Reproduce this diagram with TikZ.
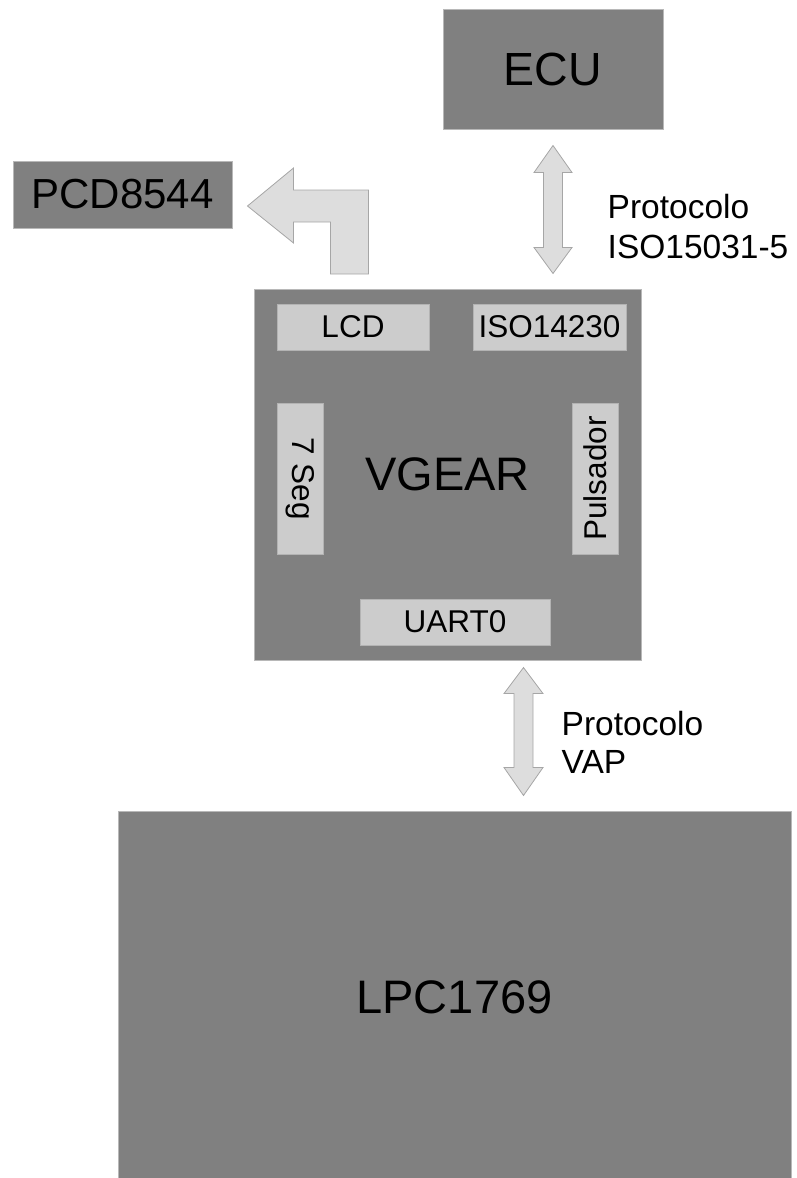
\documentclass[tikz,border=0pt]{standalone}
\usepackage{fontspec}
\setmainfont{Liberation Sans}
\usepackage{tikz}
\usetikzlibrary{calc}

\definecolor{blockgray}{HTML}{808080}
\definecolor{blockedge}{HTML}{B8B8B8}
\definecolor{partfill}{HTML}{CCCCCC}
\definecolor{partedge}{HTML}{B3B3B3}
\definecolor{arrfill}{HTML}{DDDDDD}
\definecolor{arredge}{HTML}{A6A6A6}

\begin{document}
\begin{tikzpicture}[
    x=1pt, y=-1pt,
    block/.style={draw=blockedge, fill=blockgray, inner sep=0pt, line width=1pt},
    part/.style={draw=partedge, fill=partfill, inner sep=0pt, line width=0.8pt,
                 minimum width=152pt, minimum height=46pt, font=\fontsize{31.5}{36}\selectfont},
    blockarr/.style={draw=arredge, fill=arrfill, line width=0.8pt, line join=miter},
    lbl/.style={anchor=north west, inner sep=0pt, align=left, font=\fontsize{33.5}{40}\selectfont}
]
\useasboundingbox (0,0) rectangle (797,1178);

% main blocks
\node[block, minimum width=220pt, minimum height=120pt, font=\fontsize{46.5}{50}\selectfont] (ecu) at (553,69) {ECU};
\node[block, minimum width=219pt, minimum height=67pt, font=\fontsize{42}{46}\selectfont] (pcd) at (122.5,194.5) {PCD8544};
\node[block, minimum width=387pt, minimum height=371pt, font=\fontsize{47}{50}\selectfont] (vgear) at (447.5,474.5) {VGEAR};
\node[block, minimum width=673pt, minimum height=373pt, font=\fontsize{47}{50}\selectfont] (lpc) at (454.5,997.5) {LPC1769};

% peripherals inside VGEAR
\node[part] (lcd) at (353,327) {LCD};
\node[part, minimum width=153pt] (iso) at (549.5,327) {ISO14230};
\node[part, minimum width=151pt, rotate=-90] (seg) at (300,478.5) {7 Seg};
\node[part, minimum width=151pt, rotate=90] (puls) at (595,478.5) {Pulsador};
\node[part, minimum width=190pt] (uart) at (455,622) {UART0};

% ECU <-> VGEAR
\coordinate (ecuA) at ($(ecu.south)+(0,16)$);
\coordinate (ecuB) at ($(ecu.south |- vgear.north)+(0,-15)$);
\draw[blockarr] (ecuA) -- ++(19,27) -- ++(-9.5,0) -- ($(ecuB)+(9.5,-26)$) -- ++(9.5,0)
    -- (ecuB) -- ++(-19,-26) -- ++(9.5,0) -- ($(ecuA)+(-9.5,27)$) -- ++(-9.5,0) -- cycle;
\node[lbl] (isolbl) at (607.5,194) {Protocolo\\ISO15031-5};

% VGEAR -> PCD8544
\coordinate (pcdT) at ($(pcd.east)+(15,11.5)$);
\draw[blockarr] (pcdT) -- ++(46,-38) -- ++(0,22) -- ++(75,0) -- ++(0,84) -- ++(-38,0)
    -- ++(0,-52) -- ++(-37,0) -- ++(0,21) -- cycle;

% VGEAR <-> LPC1769
\coordinate (vapA) at ($(vgear.south)+(76,7)$);
\coordinate (vapB) at ($(vapA |- lpc.north)+(0,-15)$);
\draw[blockarr] (vapA) -- ++(19.5,26) -- ++(-10,0) -- ($(vapB)+(9.5,-28)$) -- ++(10,0)
    -- (vapB) -- ++(-19.5,-28) -- ++(10,0) -- ($(vapA)+(-9.5,26)$) -- ++(-10,0) -- cycle;
\node[lbl, font=\fontsize{33.5}{38}\selectfont] (vaplbl) at (561.5,711.5) {Protocolo\\VAP};
\end{tikzpicture}
\end{document}
